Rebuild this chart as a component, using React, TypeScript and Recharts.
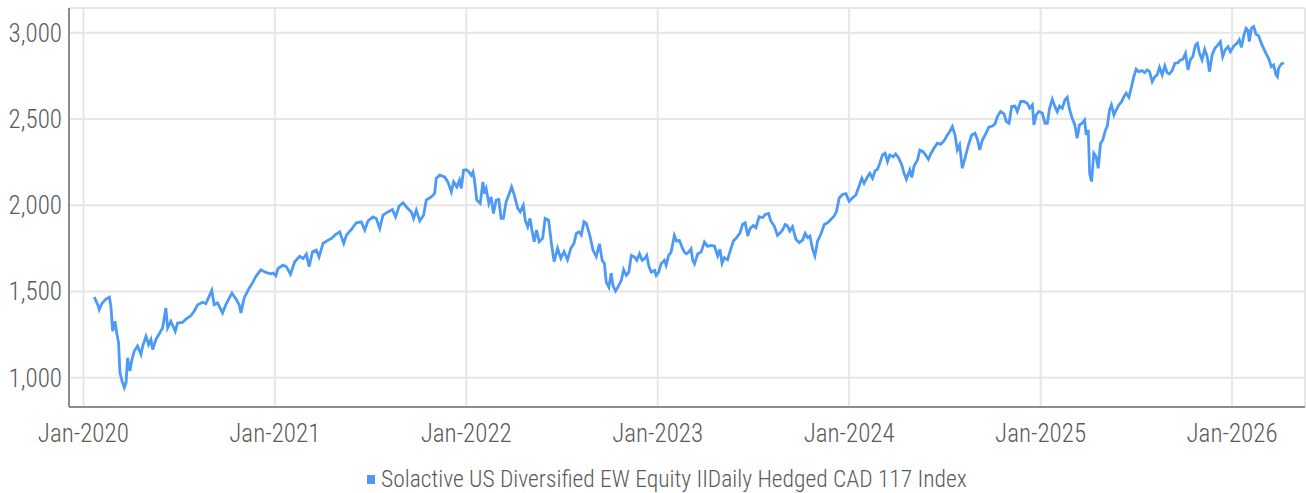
import { LineChart, Line, XAxis, YAxis, CartesianGrid, Legend } from 'recharts'

// [fraction of year, index level]
const y2020: [number, number][] = [
  [0.057, 1467], [0.075, 1423], [0.083, 1394], [0.096, 1429], [0.118, 1456], [0.136, 1467],
  [0.144, 1413], [0.153, 1269], [0.165, 1327], [0.174, 1260], [0.184, 1202], [0.191, 1029],
  [0.202, 981], [0.214, 942], [0.223, 971], [0.231, 1115], [0.243, 1038], [0.254, 1106],
  [0.266, 1154], [0.283, 1183], [0.301, 1135], [0.310, 1183], [0.327, 1240], [0.341, 1192],
  [0.353, 1221], [0.362, 1163], [0.379, 1221], [0.397, 1256], [0.414, 1288], [0.431, 1404],
  [0.440, 1288], [0.457, 1327], [0.480, 1269], [0.492, 1317], [0.518, 1321], [0.536, 1340],
  [0.562, 1360], [0.579, 1385], [0.597, 1423], [0.623, 1437], [0.640, 1429], [0.657, 1471],
  [0.671, 1506], [0.683, 1423], [0.701, 1433], [0.727, 1375], [0.744, 1423], [0.776, 1490],
  [0.797, 1456], [0.814, 1423], [0.823, 1375], [0.840, 1462], [0.866, 1519], [0.883, 1548],
  [0.901, 1587], [0.927, 1625], [0.953, 1610], [0.979, 1602], [0.991, 1606],
]

const y2021: [number, number][] = [
  [0.005, 1590], [0.017, 1633], [0.043, 1652], [0.061, 1643], [0.082, 1600], [0.104, 1672],
  [0.130, 1704], [0.148, 1691], [0.165, 1716], [0.179, 1643], [0.197, 1730], [0.217, 1739],
  [0.231, 1700], [0.252, 1778], [0.278, 1797], [0.296, 1807], [0.313, 1826], [0.339, 1845],
  [0.348, 1816], [0.360, 1778], [0.374, 1826], [0.400, 1859], [0.426, 1898], [0.452, 1903],
  [0.470, 1855], [0.487, 1909], [0.513, 1932], [0.530, 1923], [0.548, 1865], [0.565, 1942],
  [0.591, 1961], [0.614, 1975], [0.631, 1932], [0.649, 1994], [0.670, 2014], [0.690, 1986],
  [0.713, 1961], [0.725, 1923], [0.739, 1971], [0.757, 1909], [0.777, 1942], [0.791, 2029],
  [0.817, 2048], [0.835, 2068], [0.843, 2155], [0.861, 2174], [0.887, 2164], [0.904, 2135],
  [0.922, 2077], [0.934, 2135], [0.951, 2106], [0.965, 2145], [0.974, 2097], [0.986, 2203],
]

const y2022: [number, number][] = [
  [0.000, 2206], [0.014, 2192], [0.026, 2173], [0.035, 2192], [0.043, 2144], [0.055, 2029],
  [0.073, 2010], [0.087, 2135], [0.095, 2067], [0.104, 2096], [0.118, 2010], [0.130, 2048],
  [0.142, 1952], [0.156, 2029], [0.170, 2033], [0.182, 1923], [0.194, 1923], [0.208, 2019],
  [0.225, 2067], [0.237, 2106], [0.251, 2058], [0.269, 1981], [0.282, 1962], [0.298, 2000],
  [0.308, 1913], [0.321, 1875], [0.333, 1923], [0.343, 1856], [0.355, 1788], [0.367, 1856],
  [0.381, 1788], [0.399, 1808], [0.412, 1923], [0.430, 1913], [0.447, 1760], [0.459, 1673],
  [0.477, 1750], [0.494, 1692], [0.511, 1731], [0.529, 1683], [0.546, 1750], [0.563, 1779],
  [0.575, 1837], [0.589, 1846], [0.601, 1827], [0.615, 1904], [0.627, 1894], [0.645, 1827],
  [0.662, 1740], [0.679, 1702], [0.696, 1776], [0.710, 1680], [0.722, 1660], [0.731, 1554],
  [0.745, 1525], [0.757, 1606], [0.766, 1535], [0.780, 1502], [0.792, 1525], [0.810, 1564],
  [0.822, 1626], [0.836, 1593], [0.849, 1612], [0.862, 1709], [0.879, 1699], [0.891, 1680],
  [0.905, 1718], [0.919, 1680], [0.931, 1689], [0.943, 1709], [0.954, 1645], [0.966, 1612],
  [0.984, 1622], [0.992, 1593],
]

const y2023: [number, number][] = [
  [0.005, 1612], [0.018, 1660], [0.035, 1680], [0.044, 1651], [0.057, 1709], [0.070, 1728],
  [0.087, 1825], [0.099, 1792], [0.113, 1796], [0.127, 1757], [0.139, 1728], [0.151, 1718],
  [0.162, 1728], [0.174, 1747], [0.183, 1680], [0.192, 1660], [0.209, 1718], [0.227, 1728],
  [0.244, 1786], [0.261, 1761], [0.278, 1767], [0.296, 1763], [0.313, 1706], [0.325, 1744],
  [0.336, 1663], [0.348, 1696], [0.365, 1683], [0.377, 1729], [0.395, 1792], [0.412, 1812],
  [0.430, 1840], [0.443, 1888], [0.457, 1898], [0.470, 1821], [0.482, 1863], [0.499, 1883],
  [0.513, 1869], [0.530, 1933], [0.548, 1927], [0.562, 1946], [0.579, 1952], [0.591, 1908],
  [0.609, 1879], [0.626, 1825], [0.640, 1840], [0.652, 1856], [0.666, 1888], [0.678, 1879],
  [0.690, 1850], [0.704, 1875], [0.722, 1802], [0.739, 1783], [0.757, 1798], [0.770, 1837],
  [0.783, 1812], [0.795, 1821], [0.809, 1744], [0.821, 1706], [0.835, 1792], [0.852, 1831],
  [0.870, 1888], [0.887, 1898], [0.904, 1917], [0.922, 1937], [0.934, 1965], [0.948, 2042],
  [0.965, 2062], [0.983, 2067], [1.000, 2023],
]

const y2024: [number, number][] = [
  [0.014, 2039], [0.035, 2059], [0.052, 2111], [0.066, 2156], [0.078, 2127], [0.096, 2165],
  [0.108, 2185], [0.122, 2156], [0.136, 2200], [0.148, 2208], [0.160, 2243], [0.174, 2291],
  [0.188, 2301], [0.200, 2252], [0.212, 2291], [0.230, 2281], [0.243, 2297], [0.257, 2277],
  [0.275, 2233], [0.287, 2185], [0.299, 2150], [0.317, 2204], [0.327, 2161], [0.339, 2227],
  [0.357, 2262], [0.369, 2320], [0.386, 2310], [0.403, 2285], [0.414, 2266], [0.426, 2297],
  [0.443, 2330], [0.461, 2359], [0.478, 2353], [0.496, 2374], [0.513, 2407], [0.525, 2426],
  [0.539, 2455], [0.553, 2407], [0.565, 2320], [0.577, 2349], [0.591, 2214], [0.605, 2272],
  [0.623, 2349], [0.640, 2407], [0.657, 2417], [0.670, 2382], [0.682, 2320], [0.696, 2378],
  [0.713, 2413], [0.730, 2452], [0.748, 2459], [0.762, 2471], [0.774, 2514], [0.791, 2543],
  [0.809, 2529], [0.821, 2485], [0.835, 2475], [0.849, 2572], [0.866, 2575], [0.878, 2543],
  [0.896, 2601], [0.913, 2601], [0.930, 2591], [0.943, 2562], [0.957, 2581], [0.965, 2465],
  [0.977, 2523], [0.991, 2543],
]

const y2025: [number, number][] = [
  [0.009, 2533], [0.023, 2475], [0.035, 2475], [0.047, 2562], [0.061, 2614], [0.075, 2571],
  [0.087, 2542], [0.099, 2575], [0.113, 2562], [0.127, 2610], [0.139, 2625], [0.151, 2556],
  [0.165, 2504], [0.179, 2465], [0.191, 2388], [0.203, 2465], [0.217, 2475], [0.230, 2494],
  [0.238, 2407], [0.249, 2436], [0.256, 2185], [0.266, 2137], [0.278, 2301], [0.290, 2282],
  [0.301, 2214], [0.313, 2359], [0.325, 2378], [0.339, 2436], [0.348, 2455], [0.360, 2552],
  [0.370, 2581], [0.383, 2523], [0.395, 2552], [0.409, 2581], [0.423, 2600], [0.435, 2629],
  [0.447, 2649], [0.461, 2625], [0.475, 2687], [0.487, 2745], [0.499, 2788], [0.513, 2774],
  [0.530, 2780], [0.544, 2768], [0.557, 2784], [0.569, 2774], [0.583, 2716], [0.597, 2745],
  [0.609, 2755], [0.621, 2799], [0.635, 2755], [0.649, 2807], [0.661, 2768], [0.673, 2761],
  [0.687, 2780], [0.701, 2822], [0.718, 2826], [0.730, 2842], [0.743, 2846], [0.757, 2880],
  [0.770, 2784], [0.783, 2846], [0.795, 2861], [0.809, 2929], [0.819, 2938], [0.830, 2880],
  [0.843, 2842], [0.857, 2903], [0.870, 2861], [0.882, 2774], [0.896, 2871], [0.910, 2909],
  [0.922, 2923], [0.939, 2948], [0.951, 2861], [0.965, 2903], [0.979, 2919], [0.991, 2890],
]

const y2026: [number, number][] = [
  [0.009, 2923], [0.026, 2938], [0.038, 2958], [0.049, 2915], [0.061, 2981], [0.073, 3025],
  [0.083, 3015], [0.090, 2948], [0.101, 3025], [0.113, 3035], [0.125, 2992], [0.139, 2981],
  [0.153, 2938], [0.165, 2909], [0.177, 2880], [0.191, 2851], [0.205, 2803], [0.217, 2813],
  [0.230, 2755], [0.237, 2745], [0.243, 2793], [0.257, 2818], [0.270, 2826],
]

const years = [2020, 2021, 2022, 2023, 2024, 2025, 2026]
const yearSeries = [y2020, y2021, y2022, y2023, y2024, y2025, y2026]
const yTicks = [1000, 1500, 2000, 2500, 3000]
const seriesName = 'Solactive US Diversified EW Equity IIDaily Hedged CAD 117 Index'

const data = yearSeries.flatMap((pts, i) => pts.map(([f, v]) => ({ t: years[i] + f, value: v })))

const FONT = "'Roboto Condensed', 'Liberation Sans Narrow', 'DejaVu Sans Condensed', sans-serif"
const TEXT = '#5a5a5a'

function XTick({ x, y, payload }: any) {
  return (
    <text x={x} y={y + 35} textAnchor="middle" fill={TEXT} fontSize={25} fontWeight={300} fontFamily={FONT}>
      {`Jan-${payload.value}`}
    </text>
  )
}

function YTick({ x, y, payload }: any) {
  return (
    <text x={x - 7} y={y + 9} textAnchor="end" fill={TEXT} fontSize={25} fontWeight={300} fontFamily={FONT}>
      {payload.value.toLocaleString('en-US')}
    </text>
  )
}

function LegendContent() {
  return (
    <div style={{ height: 38, display: 'flex', alignItems: 'center', paddingLeft: 367, paddingTop: 10, boxSizing: 'border-box' }}>
      <span style={{ width: 8, height: 9, background: '#4C9AF6', display: 'inline-block', marginRight: 6 }} />
      <span style={{ fontFamily: FONT, fontSize: 23.5, fontWeight: 300, color: TEXT, lineHeight: '28px' }}>{seriesName}</span>
    </div>
  )
}

export default function App() {
  return (
    <div style={{ position: 'absolute', left: 0, top: 0, background: '#fff' }}>
      <LineChart width={1306} height={493} data={data} margin={{ top: 8, right: 1, left: 0, bottom: 0 }}>
        <CartesianGrid stroke="#e6e6e6" strokeWidth={2} />
        <XAxis
          dataKey="t"
          type="number"
          domain={[2019.925, 2026.381]}
          ticks={years}
          allowDataOverflow
          height={48}
          tickLine={false}
          tickSize={0}
          tickMargin={0}
          stroke="#8c8c8c"
          strokeWidth={2}
          tick={<XTick />}
          interval={0}
        />
        <YAxis
          type="number"
          domain={[830, 3143]}
          ticks={yTicks}
          allowDataOverflow
          width={69}
          tickLine={false}
          tickSize={0}
          tickMargin={0}
          stroke="#8c8c8c"
          strokeWidth={2}
          tick={<YTick />}
          interval={0}
        />
        <Legend verticalAlign="bottom" content={<LegendContent />} />
        <Line
          dataKey="value"
          name={seriesName}
          type="linear"
          stroke="#4C9AF6"
          strokeWidth={2.8}
          dot={false}
          isAnimationActive={false}
        />
      </LineChart>
    </div>
  )
}
